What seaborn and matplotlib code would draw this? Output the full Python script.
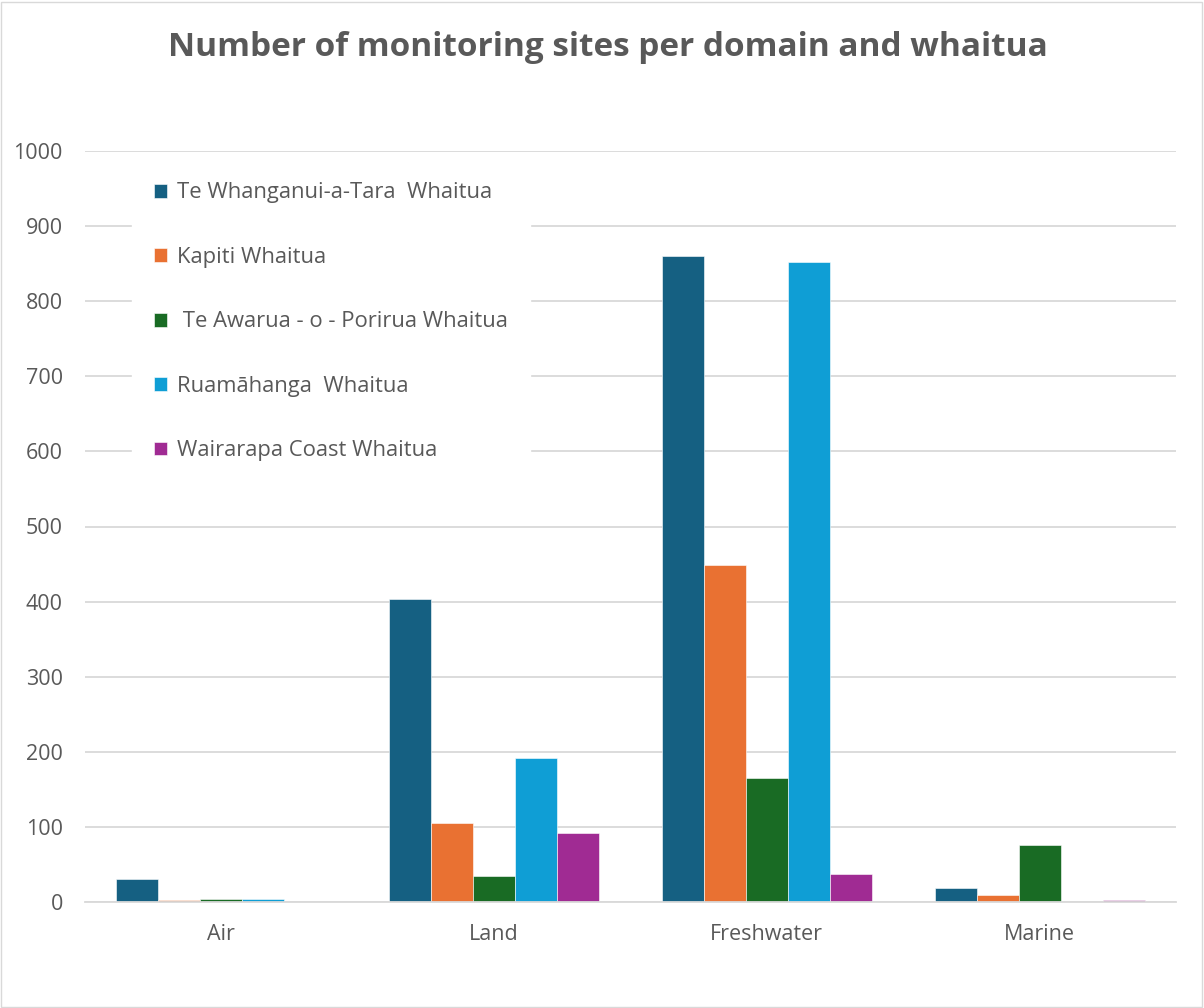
import pandas as pd
import matplotlib.pyplot as plt
import seaborn as sns
from matplotlib.patches import Rectangle

domains = ["Air", "Land", "Freshwater", "Marine"]
whaitua = [
    "Te Whanganui-a-Tara  Whaitua",
    "Kapiti Whaitua",
    " Te Awarua - o - Porirua Whaitua",
    "Ruamāhanga  Whaitua",
    "Wairarapa Coast Whaitua",
]
te_whanganui = [31, 403, 860, 19]
kapiti = [2, 105, 449, 9]
porirua = [4, 35, 165, 76]
ruamahanga = [4, 192, 852, 0]
wairarapa = [0, 92, 37, 3]

colors = ["#156082", "#E97132", "#196B24", "#0F9ED5", "#A02B93"]

rows = []
for name, vals in zip(whaitua, [te_whanganui, kapiti, porirua, ruamahanga, wairarapa]):
    for d, v in zip(domains, vals):
        rows.append({"domain": d, "whaitua": name, "sites": v})
df = pd.DataFrame(rows)

sns.set_theme(style="white")
plt.rcParams["font.family"] = ["Open Sans", "DejaVu Sans"]
text_col = "#595959"

fig = plt.figure(figsize=(12.04, 10.08), dpi=100)
ax = fig.add_axes([85 / 1204, 1 - 902 / 1008, 1091 / 1204, 751 / 1008])

sns.barplot(data=df, x="domain", y="sites", hue="whaitua", order=domains,
            hue_order=whaitua, palette=colors, width=0.77, gap=0,
            saturation=1, ax=ax, edgecolor="white", linewidth=0.4)

ax.set_ylim(0, 1000)
ax.set_yticks(range(0, 1001, 100))
ax.yaxis.grid(True, color="#d9d9d9", linewidth=1.3)
ax.set_axisbelow(True)
for s in ["top", "right", "left"]:
    ax.spines[s].set_visible(False)
ax.spines["bottom"].set_color("#d9d9d9")
ax.spines["bottom"].set_linewidth(1.3)
ax.tick_params(axis="both", length=0, labelsize=15.5, colors=text_col)
ax.tick_params(axis="y", pad=16)
ax.tick_params(axis="x", pad=16)
ax.set_xlabel("")
ax.set_ylabel("")
ax.set_xlim(-0.5, 3.5)

leg = ax.legend(loc="upper left", bbox_to_anchor=(0.033, 1.002), frameon=True,
                fancybox=False, edgecolor="white", framealpha=1,
                fontsize=15.8, labelspacing=1.98, handlelength=0.6,
                handleheight=0.6, handletextpad=0.45, borderpad=1.0)
for t in leg.get_texts():
    t.set_color(text_col)

fig.text(0.505, 1 - 47 / 1008, "Number of monitoring sites per domain and whaitua",
         ha="center", va="center", fontsize=24, fontweight="bold", color=text_col)

fig.patches.append(Rectangle((0.001, 0.001), 0.997, 0.997, transform=fig.transFigure,
                             fill=False, edgecolor="#d9d9d9", linewidth=1))

plt.savefig("out.png", dpi=100)
plt.close(fig)
